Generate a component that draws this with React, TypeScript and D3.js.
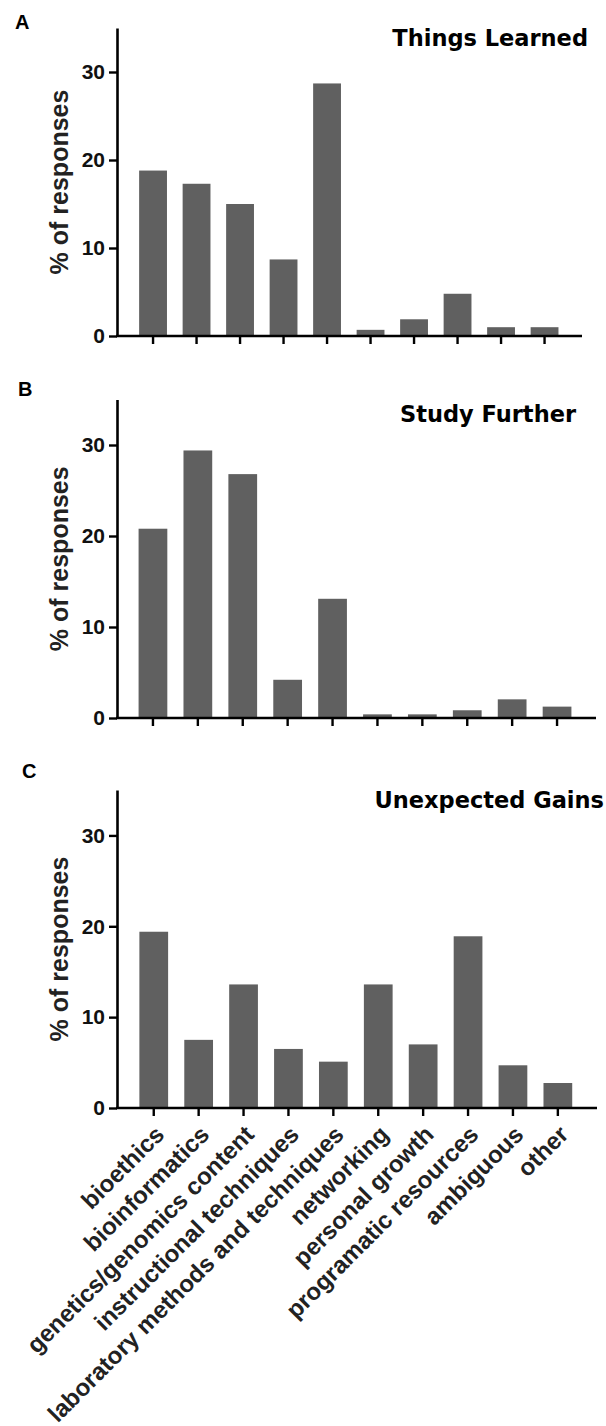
import React, { useRef, useEffect } from "react";
import * as d3 from "d3";

// categories shared by all three panels
const categories = [
  "bioethics",
  "bioinformatics",
  "genetics/genomics content",
  "instructional techniques",
  "laboratory methods and techniques",
  "networking",
  "personal growth",
  "programatic resources",
  "ambiguous",
  "other",
];

// % of responses per panel
const thingsLearned = [18.8, 17.3, 15.0, 8.7, 28.7, 0.7, 1.9, 4.8, 1.0, 1.0];
const studyFurther = [20.8, 29.4, 26.8, 4.2, 13.1, 0.4, 0.4, 0.85, 2.05, 1.25];
const unexpectedGains = [19.4, 7.5, 13.6, 6.5, 5.1, 13.6, 7.0, 18.9, 4.7, 2.75];

const yTicks = [0, 10, 20, 30];
const panelLetters = ["A", "B", "C"];
const panelTitles = ["Things Learned", "Study Further", "Unexpected Gains"];
const panelValues = [thingsLearned, studyFurther, unexpectedGains];

// layout of each panel (pixels)
const layout = [
  { top: 28, bottom: 336, left: 117, right: 582, r0: 131.3, r1: 566.3, titleX: 588, titleY: 46, letterX: 15, letterY: 29 },
  { top: 399.5, bottom: 718, left: 117, right: 596, r0: 130.5, r1: 579.5, titleX: 576, titleY: 422, letterX: 18, letterY: 396 },
  { top: 790, bottom: 1108, left: 117, right: 597, r0: 131.3, r1: 580.3, titleX: 604, titleY: 808, letterX: 22, letterY: 778 },
];

const W = 606;
const H = 1426;
const barColor = "#606060";
const sans = "'Liberation Sans', Arial, sans-serif";

const App = () => {
  const svgRef = useRef(null);

  useEffect(() => {
    const svg = d3.select(svgRef.current);
    svg.selectAll("*").remove();

    panelValues.forEach((values, p) => {
      const L = layout[p];
      const g = svg.append("g");

      const x = d3.scaleBand().domain(categories).range([L.r0, L.r1]).paddingInner(0.36).paddingOuter(0.18);
      const y = d3.scaleLinear().domain([0, 35]).range([L.bottom, L.top]);

      // bars
      g.selectAll("rect")
        .data(values)
        .join("rect")
        .attr("x", (d, i) => x(categories[i]))
        .attr("y", (d) => y(d))
        .attr("width", x.bandwidth())
        .attr("height", (d) => y(0) - y(d))
        .attr("fill", barColor);

      // y axis
      const yAxis = g
        .append("g")
        .attr("transform", `translate(${L.left},0)`)
        .call(d3.axisLeft(y).tickValues(yTicks).tickSize(8).tickSizeOuter(0).tickPadding(4));
      yAxis.select(".domain").attr("stroke-width", 2.6);
      yAxis.selectAll(".tick line").attr("stroke-width", 2.4);
      yAxis
        .selectAll(".tick text")
        .style("font-family", sans)
        .style("font-size", "21px")
        .style("font-weight", "bold")
        .attr("fill", "#111");

      // x axis
      const xAxis = g
        .append("g")
        .attr("transform", `translate(0,${L.bottom})`)
        .call(
          d3
            .axisBottom(x)
            .tickSize(8)
            .tickSizeOuter(0)
            .tickFormat((d) => (p === 2 ? d : ""))
        );
      xAxis.select(".domain").remove();
      xAxis.selectAll(".tick line").attr("stroke-width", 2.4);
      xAxis
        .append("line")
        .attr("x1", L.left - 1)
        .attr("x2", L.right)
        .attr("stroke", "black")
        .attr("stroke-width", 2.6);

      if (p === 2) {
        xAxis
          .selectAll(".tick text")
          .attr("text-anchor", "end")
          .attr("transform", "translate(6,22) rotate(-45)")
          .attr("x", 0)
          .attr("y", 0)
          .attr("dy", "0.35em")
          .style("font-family", sans)
          .style("font-size", "24px")
          .style("font-weight", "bold")
          .attr("fill", "#222");
      }

      // y axis title
      g.append("text")
        .attr("transform", `translate(68,${(L.top + L.bottom) / 2}) rotate(-90)`)
        .attr("text-anchor", "middle")
        .style("font-family", sans)
        .style("font-size", "25px")
        .style("font-weight", "bold")
        .attr("fill", "#222")
        .text("% of responses");

      // panel title
      g.append("text")
        .attr("x", L.titleX)
        .attr("y", L.titleY)
        .attr("text-anchor", "end")
        .style("font-family", "'DejaVu Sans', Verdana, sans-serif")
        .style("font-size", "22.5px")
        .style("font-weight", "bold")
        .attr("fill", "#000")
        .text(panelTitles[p]);

      // panel letter
      g.append("text")
        .attr("x", L.letterX)
        .attr("y", L.letterY)
        .style("font-family", sans)
        .style("font-size", "20px")
        .style("font-weight", "bold")
        .attr("fill", "#000")
        .text(panelLetters[p]);
    });
  }, []);

  return (
    <svg
      ref={svgRef}
      width={W}
      height={H}
      style={{ position: "absolute", left: 0, top: 0, background: "white" }}
    />
  );
};

export default App;
